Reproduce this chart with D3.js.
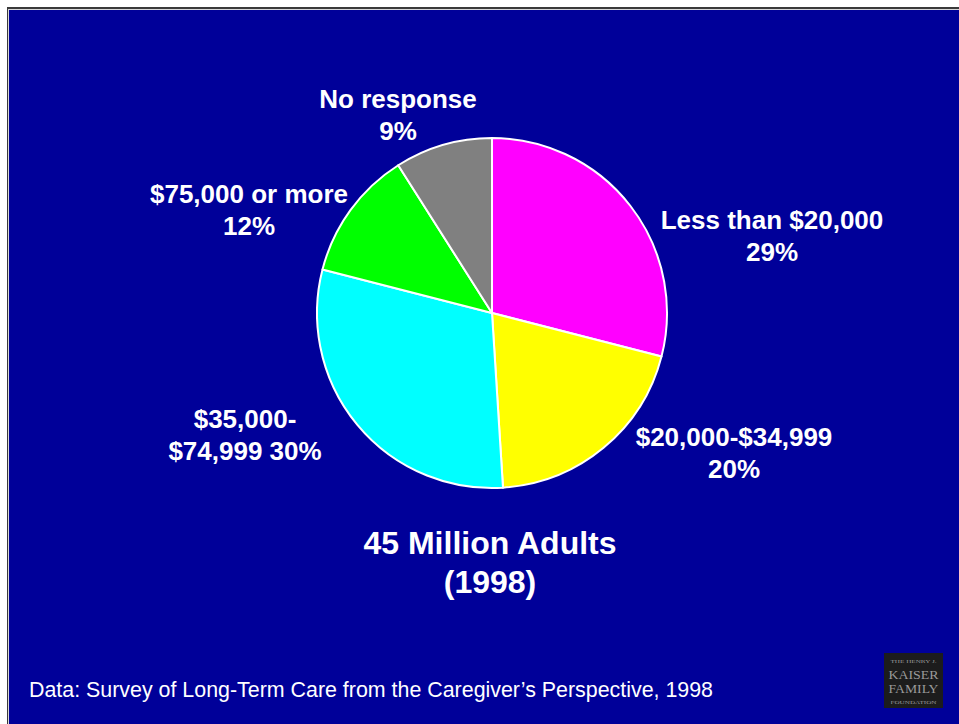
<!DOCTYPE html>
<html>
<head>
<meta charset="utf-8">
<script src="https://cdn.jsdelivr.net/npm/d3@7"></script>
<style>
  html, body { margin: 0; padding: 0; background: #ffffff; }
  svg { display: block; }
  text { font-family: Arial, "Liberation Sans", Helvetica, sans-serif; fill: #ffffff; }
</style>
</head>
<body>
<svg id="chart" width="959" height="724"></svg>
<script>
// Household income of caregivers, share of 45 million adults (1998)
const categories = ["Less than $20,000", "$20,000-$34,999", "$35,000-$74,999", "$75,000 or more", "No response"];
const shares = [29, 20, 30, 12, 9];
const sliceColors = ["#ff00ff", "#ffff00", "#00ffff", "#00ff00", "#808080"];
// Label lines as printed beside each slice
const labelLines = [
  ["Less than $20,000", "29%"],
  ["$20,000-$34,999", "20%"],
  ["$35,000-", "$74,999 30%"],
  ["$75,000 or more", "12%"],
  ["No response", "9%"]
];
const titleLines = ["45 Million Adults", "(1998)"];
const sourceNote = "Data: Survey of Long-Term Care from the Caregiver\u2019s Perspective, 1998";

// Layout
const W = 959, H = 724;
const cx = 492, cy = 313, radius = 175;
// Anchor (centre x, first baseline y) for each label block
const labelAnchors = [[772, 229], [734, 446], [245, 428], [249, 203], [398, 108]];
const labelLineGap = 32;

const svg = d3.select("#chart");

// Slide frame
svg.append("rect").attr("x", 7).attr("y", 7).attr("width", W - 7).attr("height", H - 7).attr("fill", "#3a3a3a");
svg.append("rect").attr("x", 8).attr("y", 9).attr("width", W - 8).attr("height", H - 9).attr("fill", "#d8d8d8");
svg.append("rect").attr("x", 9).attr("y", 10).attr("width", W - 9).attr("height", H - 10).attr("fill", "#000099");

// Pie
const pie = d3.pie().sort(null).value(d => d).startAngle(0).endAngle(2 * Math.PI);
const arc = d3.arc().innerRadius(0).outerRadius(radius);

const g = svg.append("g").attr("transform", `translate(${cx},${cy})`);
g.selectAll("path.slice")
  .data(pie(shares))
  .join("path")
  .attr("class", "slice")
  .attr("d", arc)
  .attr("fill", (d, i) => sliceColors[i])
  .attr("stroke", "#ffffff")
  .attr("stroke-width", 2)
  .attr("stroke-linejoin", "round");

// Slice labels
const lbl = svg.append("g").attr("font-size", 26).attr("font-weight", "bold").attr("text-anchor", "middle");
labelLines.forEach((lines, i) => {
  const [x, y] = labelAnchors[i];
  const t = lbl.append("text").attr("x", x).attr("y", y);
  lines.forEach((s, k) => {
    t.append("tspan").attr("x", x).attr("y", y + k * labelLineGap).text(s);
  });
});

// Title beneath the pie
const title = svg.append("text")
  .attr("text-anchor", "middle")
  .attr("font-size", 32)
  .attr("font-weight", "bold");
titleLines.forEach((s, k) => {
  title.append("tspan").attr("x", 490).attr("y", 554 + k * 39).text(s);
});

// Source note
svg.append("text")
  .attr("x", 29).attr("y", 697)
  .attr("font-size", 21.4)
  .text(sourceNote);

// Foundation mark, bottom right
const logo = svg.append("g").attr("transform", "translate(884,653)")
  .attr("text-anchor", "middle");
logo.append("rect").attr("width", 59).attr("height", 55).attr("fill", "#1c1c1c");
const logoLines = [
  { s: "THE HENRY J.", y: 10, size: 5, w: 46 },
  { s: "KAISER", y: 26, size: 12, w: 50 },
  { s: "FAMILY", y: 40, size: 12, w: 50 },
  { s: "FOUNDATION", y: 51, size: 5, w: 46 }
];
logoLines.forEach(d => {
  logo.append("text")
    .attr("x", 29.5).attr("y", d.y)
    .attr("font-size", d.size)
    .attr("textLength", d.w)
    .attr("lengthAdjust", "spacingAndGlyphs")
    .style("font-family", "'Liberation Serif', 'DejaVu Serif', serif")
    .style("fill", "#9a9a9a")
    .text(d.s);
});
</script>
</body>
</html>
